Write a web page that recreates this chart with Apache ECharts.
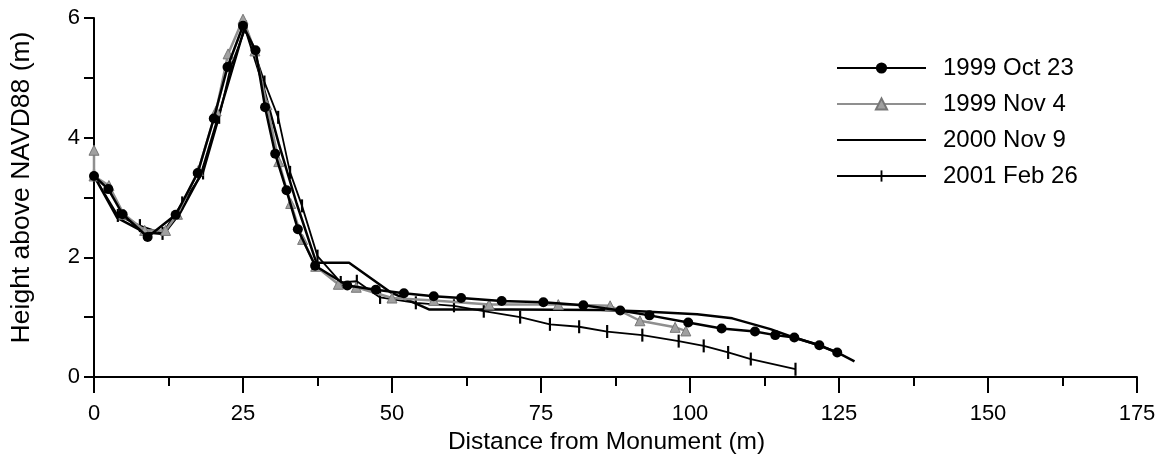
<!DOCTYPE html>
<html>
<head>
<meta charset="utf-8">
<script src="https://cdn.jsdelivr.net/npm/echarts@6/dist/echarts.min.js"></script>
<style>
html,body{margin:0;padding:0;background:#fff;}
#chart{width:1169px;height:464px;}
</style>
</head>
<body>
<div id="chart"></div>
<script>
// Series names
var seriesNames = ["1999 Oct 23", "1999 Nov 4", "2000 Nov 9", "2001 Feb 26"];

// 1999 Oct 23 (filled circles)
var oct1999X = [0, 2.4, 4.8, 9.0, 13.7, 17.4, 20.1, 22.4, 25, 27.1, 28.7, 30.4, 32.3, 34.2, 37.1, 42.5, 47.3, 52, 57, 61.6, 68.4, 75.4, 82.1, 88.3, 93.2, 99.7, 105.3, 110.9, 114.3, 117.5, 121.7, 124.7];
var oct1999Y = [3.36, 3.14, 2.72, 2.34, 2.71, 3.41, 4.32, 5.18, 5.87, 5.46, 4.51, 3.73, 3.12, 2.47, 1.86, 1.53, 1.46, 1.40, 1.35, 1.32, 1.27, 1.25, 1.20, 1.11, 1.03, 0.91, 0.81, 0.76, 0.70, 0.66, 0.53, 0.41];

// 1999 Nov 4 (grey triangles)
var nov1999X = [0, 0, 2.5, 5, 8.5, 12, 14, 17.5, 20.5, 22.5, 25, 27, 29, 31, 33, 35, 37.2, 41, 44, 50, 57, 66.3, 77.9, 86.6, 91.6, 97.5, 99.3];
var nov1999Y = [3.79, 3.36, 3.2, 2.72, 2.45, 2.45, 2.72, 3.45, 4.45, 5.4, 5.98, 5.45, 4.55, 3.6, 2.9, 2.3, 1.85, 1.55, 1.5, 1.32, 1.28, 1.21, 1.21, 1.19, 0.94, 0.83, 0.77];

// 2000 Nov 9 (plain line)
var nov2000X = [0, 3.9, 8.4, 11.7, 14.5, 18, 21, 25.3, 28, 31, 34, 37.3, 42.8, 49.7, 56.2, 70, 85, 91.5, 101.2, 107.1, 113.5, 117.4, 121.7, 124.7, 127.6];
var nov2000Y = [3.36, 2.66, 2.42, 2.39, 2.75, 3.4, 4.4, 5.85, 5.0, 3.9, 2.9, 1.91, 1.91, 1.42, 1.13, 1.13, 1.12, 1.10, 1.05, 0.98, 0.80, 0.66, 0.53, 0.41, 0.26];

// 2001 Feb 26 (vertical tick markers)
var feb2001X = [0, 4, 7.7, 11.5, 14.8, 18.3, 21, 22.9, 25.5, 28.6, 30.9, 32.9, 34.9, 37.5, 41.4, 44.1, 48, 54, 60.4, 65.4, 71.5, 76.5, 81.4, 86.1, 92, 98.1, 102.3, 106.4, 110.2, 117.7];
var feb2001Y = [3.36, 2.7, 2.53, 2.4, 2.91, 3.41, 4.34, 5.17, 5.85, 4.93, 4.34, 3.42, 2.86, 2.02, 1.58, 1.60, 1.33, 1.24, 1.19, 1.10, 1.00, 0.88, 0.84, 0.76, 0.70, 0.60, 0.52, 0.41, 0.30, 0.13];

var xTicks = [0, 25, 50, 75, 100, 125, 150, 175];
var yTicks = [0, 2, 4, 6];

function pairs(xs, ys) {
  var out = [];
  for (var i = 0; i < xs.length; i++) out.push([xs[i], ys[i]]);
  return out;
}

var FONT = "'Liberation Sans', Arial, sans-serif";
var TICK_MARK = 'path://M0,0 M5,0 L7,0 L7,12 L5,12 Z M12,12';
var chart = echarts.init(document.getElementById('chart'), null, {renderer: 'canvas'});

chart.setOption({
  backgroundColor: '#ffffff',
  animation: false,
  textStyle: {fontFamily: FONT, color: '#000'},
  grid: {left: 93, right: 32, top: 18, bottom: 87, containLabel: false},
  legend: {
    orient: 'vertical',
    left: 831,
    top: 51,
    itemWidth: 89,
    itemHeight: 14,
    itemGap: 12,
    data: [
      {name: seriesNames[0]},
      {name: seriesNames[1]},
      {name: seriesNames[2], itemStyle: {opacity: 0}},
      {name: seriesNames[3]}
    ],
    textStyle: {fontFamily: FONT, fontSize: 24, color: '#000', padding: [0, 0, 0, 12]},
    inactiveColor: '#000'
  },
  xAxis: {
    type: 'value',
    min: 0, max: 175, interval: 25,
    name: 'Distance from Monument (m)',
    nameLocation: 'middle',
    nameGap: 49,
    nameTextStyle: {fontFamily: FONT, fontSize: 24.5, color: '#000', padding: [0, 18, 0, 0]},
    axisLine: {show: true, onZero: false, lineStyle: {color: '#000', width: 2}},
    axisTick: {show: true, length: 16, lineStyle: {color: '#000', width: 2}},
    minorTick: {show: true, splitNumber: 2, length: 9, lineStyle: {color: '#000', width: 2}},
    axisLabel: {margin: 26, fontFamily: FONT, fontSize: 22, color: '#000',
      formatter: function (v) { return xTicks.indexOf(v) >= 0 ? String(v) : ''; }},
    splitLine: {show: false},
    minorSplitLine: {show: false}
  },
  yAxis: {
    type: 'value',
    min: 0, max: 6, interval: 2,
    name: 'Height above NAVD88 (m)',
    nameLocation: 'middle',
    nameGap: 59,
    nameTextStyle: {fontFamily: FONT, fontSize: 26.5, color: '#000', padding: [0, 0, 0, 20]},
    axisLine: {show: true, onZero: false, lineStyle: {color: '#000', width: 2}},
    axisTick: {show: true, length: 10, lineStyle: {color: '#000', width: 2}},
    minorTick: {show: true, splitNumber: 2, length: 10, lineStyle: {color: '#000', width: 2}},
    axisLabel: {margin: 14, fontFamily: FONT, fontSize: 22, color: '#000',
      formatter: function (v) { return yTicks.indexOf(v) >= 0 ? String(v) : ''; }},
    splitLine: {show: false},
    minorSplitLine: {show: false}
  },
  series: [
    {
      name: seriesNames[0], type: 'line', data: pairs(oct1999X, oct1999Y),
      symbol: 'circle', symbolSize: 10, showAllSymbol: true,
      itemStyle: {color: '#000'},
      lineStyle: {color: '#000', width: 2.5}, z: 4
    },
    {
      name: seriesNames[1], type: 'line', data: pairs(nov1999X, nov1999Y),
      symbol: 'triangle', symbolSize: 10, showAllSymbol: true,
      itemStyle: {color: '#a0a0a0', borderColor: '#777', borderWidth: 1},
      lineStyle: {color: '#8f8f8f', width: 2.5}, z: 3
    },
    {
      name: seriesNames[2], type: 'line', data: pairs(nov2000X, nov2000Y),
      symbol: 'none', showSymbol: false,
      itemStyle: {color: '#000'},
      lineStyle: {color: '#000', width: 2.5}, z: 2
    },
    {
      name: seriesNames[3], type: 'line', data: pairs(feb2001X, feb2001Y),
      symbol: TICK_MARK, symbolSize: 13, showAllSymbol: true,
      itemStyle: {color: '#000'},
      lineStyle: {color: '#000', width: 1.8}, z: 1
    }
  ]
});
</script>
</body>
</html>
